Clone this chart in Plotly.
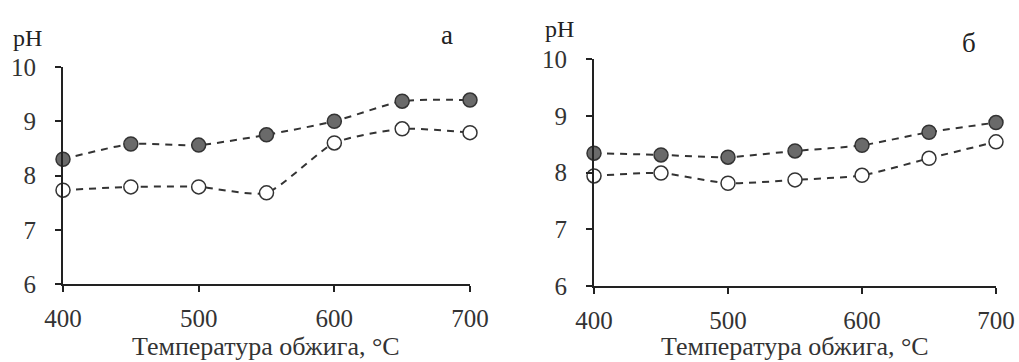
import plotly.graph_objects as go

temps = [400, 450, 500, 550, 600, 650, 700]
ph_a_filled = [8.30, 8.58, 8.56, 8.75, 9.00, 9.37, 9.39]
ph_a_open = [7.73, 7.79, 7.79, 7.68, 8.60, 8.86, 8.79]
ph_b_filled = [8.34, 8.31, 8.27, 8.38, 8.48, 8.71, 8.88]
ph_b_open = [7.94, 7.99, 7.81, 7.87, 7.95, 8.25, 8.54]
x_ticks = [400, 500, 600, 700]
y_ticks = [6, 7, 8, 9, 10]
x_title = "Температура обжига, °С"

FONT = "Liberation Serif"
LINE = "#333333"
FILL = "#6a6a6a"

fig = go.Figure()

def add(x, y, xa, ya, filled):
    fig.add_trace(go.Scatter(
        x=x, y=y, xaxis=xa, yaxis=ya, mode="lines+markers",
        line=dict(color=LINE, width=2, dash="7px,6px", shape="spline", smoothing=0.6),
        marker=dict(symbol="circle", size=14,
                    color=FILL if filled else "white",
                    line=dict(color=LINE, width=1.5)),
        cliponaxis=False, showlegend=False, hoverinfo="x+y"))

add(temps, ph_a_filled, "x", "y", True)
add(temps, ph_a_open, "x", "y", False)
add(temps, ph_b_filled, "x2", "y2", True)
add(temps, ph_b_open, "x2", "y2", False)

W, H = 1019, 362

def px(a):
    return a / W
def py(a):
    return 1 - a / H
def xd(a, b):
    return [px(a), px(b)]
def yd(top, bottom):
    return [py(bottom), py(top)]

axis_common = dict(showline=True, linecolor="#222", linewidth=2, ticks="outside",
                   ticklen=6, tickwidth=2, tickcolor="#222", showgrid=False,
                   zeroline=False, automargin=False,
                   tickfont=dict(family=FONT, size=25, color="#333"))

fig.update_layout(
    width=W, height=H, margin=dict(l=0, r=0, t=0, b=0),
    paper_bgcolor="white", plot_bgcolor="white",
    xaxis=dict(domain=xd(63, 470), anchor="y", range=[400, 700], tickvals=x_ticks,
               ticklabelstandoff=5, **axis_common),
    yaxis=dict(domain=yd(67, 284), anchor="x", range=[6, 10], tickvals=y_ticks,
               ticklabelstandoff=14, **axis_common),
    xaxis2=dict(domain=xd(594, 996), anchor="y2", range=[400, 700], tickvals=x_ticks,
                ticklabelstandoff=5, **axis_common),
    yaxis2=dict(domain=yd(59, 286), anchor="x2", range=[6, 10], tickvals=y_ticks,
                ticklabelstandoff=14, **axis_common),
)

title_font = dict(family=FONT, size=26, color="#333")
fig.add_annotation(x=px(266), y=py(346), xref="paper", yref="paper", text=x_title,
                   showarrow=False, xanchor="center", yanchor="middle", font=title_font)
fig.add_annotation(x=px(795), y=py(346), xref="paper", yref="paper", text=x_title,
                   showarrow=False, xanchor="center", yanchor="middle", font=title_font)

ann_font = dict(family=FONT, size=24, color="#222")
fig.add_annotation(x=px(11), y=py(38), xref="paper", yref="paper", text="pH",
                   showarrow=False, xanchor="left", yanchor="middle", font=ann_font)
fig.add_annotation(x=px(543), y=py(29), xref="paper", yref="paper", text="pH",
                   showarrow=False, xanchor="left", yanchor="middle", font=ann_font)
fig.add_annotation(x=px(447), y=py(35), xref="paper", yref="paper", text="а",
                   showarrow=False, xanchor="center", yanchor="middle",
                   font=dict(family=FONT, size=27, color="#222"))
fig.add_annotation(x=px(969), y=py(43), xref="paper", yref="paper", text="б",
                   showarrow=False, xanchor="center", yanchor="middle",
                   font=dict(family=FONT, size=27, color="#222"))

fig.write_html("out.html",
               config={"displayModeBar": False},
               post_script="document.body.style.margin='0';document.body.style.overflow='hidden';")
